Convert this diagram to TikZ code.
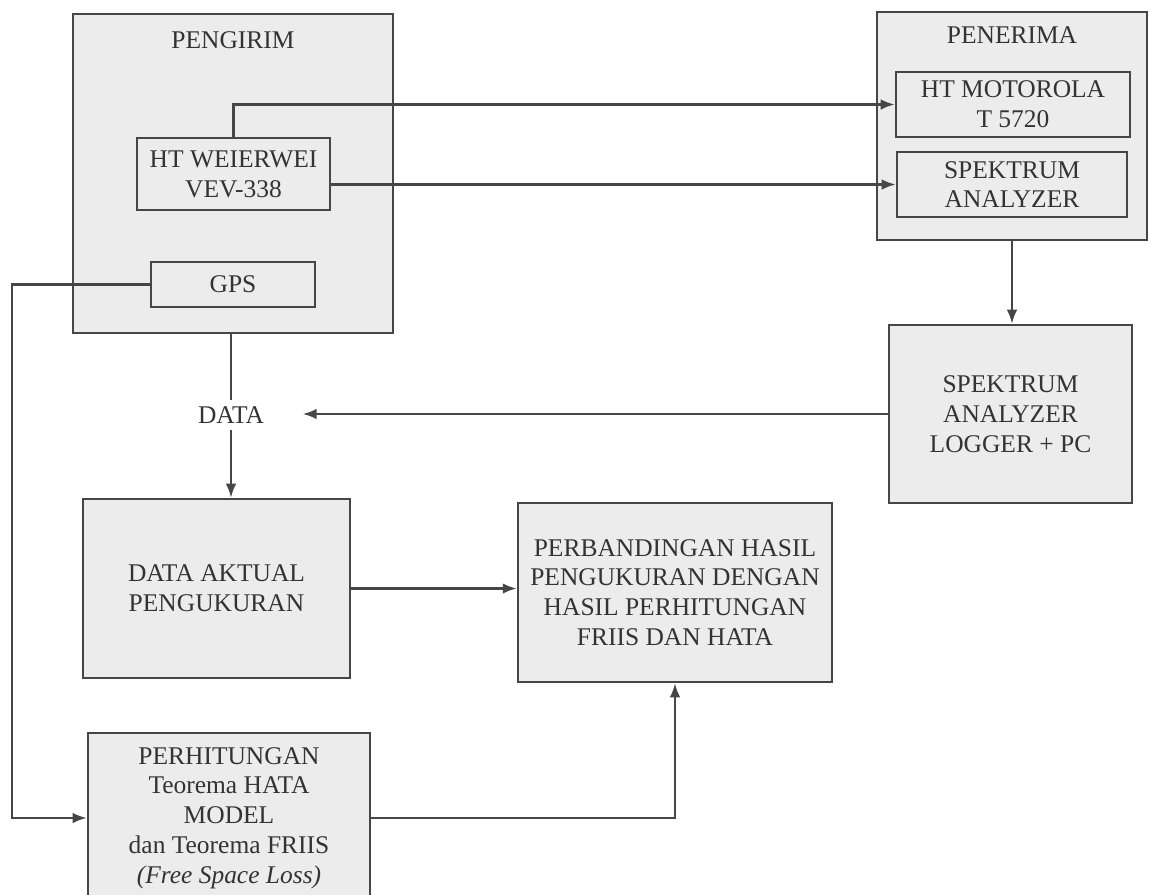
\documentclass[tikz,border=0pt]{standalone}
\usepackage{fontspec}
\setmainfont{Liberation Serif}
\usepackage{xcolor}
\usepackage{tikz}
\usetikzlibrary{arrows.meta, positioning}

\definecolor{boxfill}{HTML}{ECECEC}
\definecolor{edge}{HTML}{464646}
\definecolor{ink}{HTML}{333333}

\begin{document}
\begin{tikzpicture}[
    x=0.02cm, y=-0.02cm,
    box/.style={draw=edge, line width=1.4pt, fill=boxfill, align=center, text=ink,
                font=\fontsize{14.5}{17}\selectfont, inner sep=2pt},
    group/.style={box, line width=1.6pt},
    label/.style={text=ink, font=\fontsize{14.5}{17}\selectfont},
    arrow/.style={-{Latex[length=8pt, width=6pt]}, draw=edge, line width=1.3pt},
    line/.style={draw=edge, line width=1.3pt},
]
\useasboundingbox (0,0) rectangle (1150,894);

% Pengirim (left group)
\node[group, minimum width=6.4cm, minimum height=6.38cm] (pengirim) at (233,173.5) {};
\node[label] (pengirimlbl) at (233,40) {PENGIRIM};
\node[box, minimum width=3.86cm, minimum height=1.44cm] (ht) at (233.5,174) {HT WEIERWEI\\VEV-338};
\node[box, minimum width=3.28cm, minimum height=0.9cm] (gps) at (233,284.5) {GPS};

% Penerima (right group)
\node[group, minimum width=5.4cm, minimum height=4.56cm] (penerima) at (1012,126) {};
\node[label] (penerimalbl) at (1012,35) {PENERIMA};
\node[box, minimum width=4.68cm, minimum height=1.3cm] (motorola) at (1013,104.5) {HT MOTOROLA\\T 5720};
\node[box, minimum width=4.6cm, minimum height=1.3cm] (analyzer) at (1012,184.5) {SPEKTRUM\\ANALYZER};

% Processing blocks
\node[box, minimum width=4.86cm, minimum height=3.56cm] (logger) at (1010.5,414) {SPEKTRUM\\ANALYZER\\LOGGER + PC};
\node[label] (data) at (231,415) {DATA};
\node[box, minimum width=5.34cm, minimum height=3.58cm] (aktual) at (216.5,588.5) {DATA AKTUAL\\PENGUKURAN};
\node[box, minimum width=6.28cm, minimum height=3.58cm] (banding) at (675,592.5)
    {PERBANDINGAN HASIL\\PENGUKURAN DENGAN\\HASIL PERHITUNGAN\\FRIIS DAN HATA};
\node[box, minimum width=5.64cm, minimum height=3.4cm] (hitung) at (229,818)
    {PERHITUNGAN\\Teorema HATA\\MODEL\\dan Teorema FRIIS\\\textit{(Free Space Loss)}};

% Transmitter to receiver
\draw[arrow] (ht.north) |- (motorola.west);
\draw[arrow] (ht.east |- analyzer.west) -- (analyzer.west);
\draw[arrow] (penerima.south) -- (penerima.south |- logger.north);

% Data flow
\draw[arrow, shorten >=0.65cm] (logger.west) -- (logger.west -| data.east);
\draw[line] (data.north |- pengirim.south) -- (data.north);
\draw[arrow] (data.south) -- (data.south |- aktual.north);
\draw[arrow] (aktual.east) -- (aktual.east -| banding.west);

% GPS to calculation, calculation to comparison
\draw[arrow] (gps.west) -- ++(-138,0) |- (hitung.west);
\draw[arrow] (hitung.east) -| (banding.south);
\end{tikzpicture}
\end{document}
